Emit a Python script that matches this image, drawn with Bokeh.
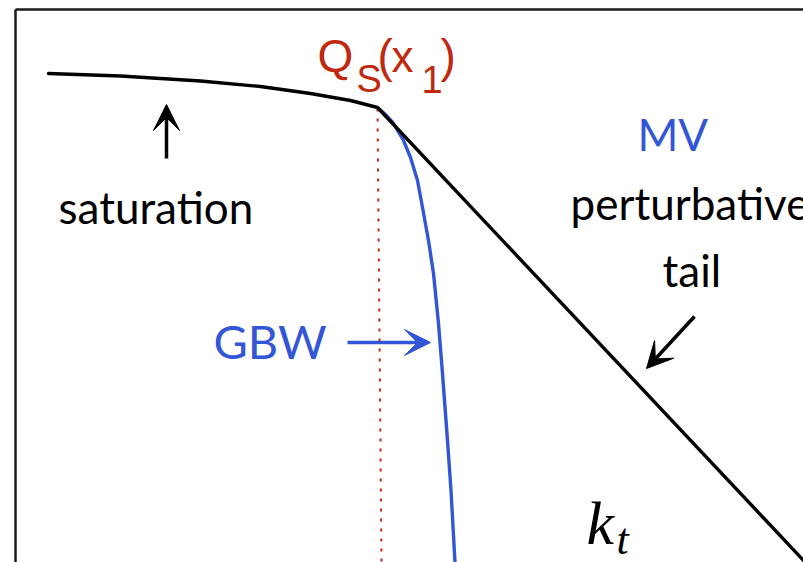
from bokeh.plotting import figure
from bokeh.models import Range1d, Arrow, VeeHead
from bokeh.core.properties import value
from bokeh.embed import file_html
from bokeh.resources import INLINE

W, H = 803, 562

# Schematic units: x grows to the right (log k_t), y grows upward (log of the dipole/ugd)
sat_x = [48, 120, 200, 260, 310, 350, 377]
sat_y = [489, 486.5, 481.5, 476, 469, 462, 455]

tail_x = [377, 820]
tail_y = [455, -16]

gbw_x = [377, 385, 393, 403, 410, 417, 422, 428, 433, 438, 442, 447, 450.5, 454.5, 455.5]
gbw_y = [455, 448, 439, 422, 405, 382, 355, 322, 289, 239, 189, 122, 72, 0, -18]

qs_x = [377, 381]
qs_y = [454, 0]

BLUE = "#3356d6"
RED = "#c0290f"
BLACK = "#000000"

p = figure(width=W, height=H, output_backend="svg", toolbar_location=None,
           x_range=Range1d(0, W), y_range=Range1d(0, H),
           min_border=0, min_border_left=0, min_border_right=0,
           min_border_top=0, min_border_bottom=0)
p.axis.visible = False
p.grid.visible = False
p.outline_line_color = None
p.background_fill_color = "white"
p.border_fill_color = "white"

# frame (left and top edges)
p.line([15, 15], [0, 553], line_color="#1a1a1a", line_width=2.5)
p.line([15, 803], [553, 553], line_color="#1a1a1a", line_width=2.5)

# Q_s marker
p.line(qs_x, qs_y, line_color=RED, line_width=2, line_dash="3 7")

# curves
p.line(gbw_x, gbw_y, line_color=BLUE, line_width=3.4, line_join="round")
p.line(sat_x + tail_x[1:], sat_y + tail_y[1:], line_color=BLACK, line_width=3.4,
       line_join="round", line_cap="round")

# arrows
p.add_layout(Arrow(x_start=166, y_start=404, x_end=166, y_end=458,
                   line_color=BLACK, line_width=3.5,
                   end=VeeHead(size=26, fill_color=BLACK, line_color=BLACK)))
p.add_layout(Arrow(x_start=347, y_start=220, x_end=430, y_end=220,
                   line_color=BLUE, line_width=3.5,
                   end=VeeHead(size=26, fill_color=BLUE, line_color=BLUE)))
p.add_layout(Arrow(x_start=694, y_start=246, x_end=646, y_end=194,
                   line_color=BLACK, line_width=3.5,
                   end=VeeHead(size=26, fill_color=BLACK, line_color=BLACK)))

SANS = value("Lato")
def label(x, base, t, size, color, font=SANS, style="normal"):
    # place the text so that its alphabetic baseline sits at `base`
    p.text(x=[x], y=[base - 0.41 * size], text=[t], text_font=font,
           text_font_size=f"{size}px", text_color=color,
           text_baseline="middle", text_align="left", text_font_style=style)

def lab(x, base_px, t, size, color, font=SANS, style="normal"):
    label(x, H - base_px, t, size, color, font, style)

# y below is given as a baseline measured down from the top edge
def put(x, base_px, t, size, color, font=SANS, style="normal"):
    p.text(x=[x], y=[H - base_px + 0.36 * size], text=[t], text_font=font,
           text_font_size=f"{size}px", text_color=color,
           text_baseline="middle", text_align="left", text_font_style=style)

put(58, 222, "saturation", 44, BLACK)
put(570, 218, "perturbative", 44, BLACK)
put(662, 285, "tail", 44, BLACK)
put(637, 149, "MV", 44, BLUE)
put(213, 357, "GBW", 47, BLUE)

HELV = value("Liberation Sans")
put(317, 72, "Q", 46, RED, HELV)
put(356, 92, "S", 38, RED, HELV)
put(377, 72, "(", 46, RED, HELV)
put(391, 72, "x", 44, RED, HELV)
put(421, 93, "1", 38, RED, HELV)
put(440, 72, ")", 46, RED, HELV)

SERIF = value("Liberation Serif")
put(586, 545, "k", 62, BLACK, SERIF, "italic")
put(616, 555, "t", 44, BLACK, SERIF, "italic")

open("out.html", "w").write(file_html(p, INLINE))
